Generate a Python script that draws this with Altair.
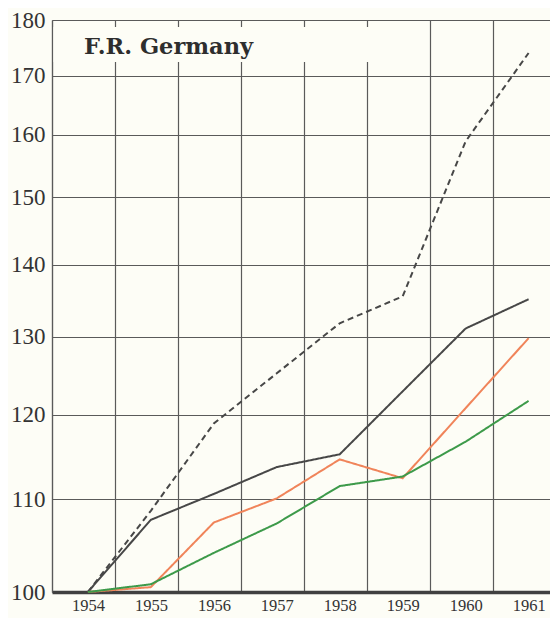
import altair as alt
import pandas as pd

years = [1954, 1955, 1956, 1957, 1958, 1959, 1960, 1961]
dashed_black = [100, 108.7, 118.9, 125.2, 131.8, 135.5, 158.9, 174.0]
solid_black = [100, 107.7, 110.6, 113.7, 115.2, 122.9, 131.1, 135.1]
orange = [100, 100.5, 107.4, 110.1, 114.6, 112.4, 120.8, 129.8]
green = [100, 100.8, 104.1, 107.3, 111.5, 112.6, 116.7, 121.7]

series_names = ["dashed", "black", "orange", "green"]
series_values = [dashed_black, solid_black, orange, green]
series_colors = ["#474747", "#474747", "#f0845a", "#3d9a4a"]
series_dash = [[6, 4], [1, 0], [1, 0], [1, 0]]

y_ticks = [100, 110, 120, 130, 140, 150, 160, 170, 180]
x_grid = [1953.43, 1954.43, 1955.43, 1956.43, 1957.43, 1958.43, 1959.43, 1960.43]
x_domain = [1953.43, 1961.34]
title_text = "F.R. Germany"

rows = []
for name, vals in zip(series_names, series_values):
    for yr, v in zip(years, vals):
        rows.append({"year": yr, "value": v, "series": name})
df = pd.DataFrame(rows)

BG = "#fdfdf6"
INK = "#333333"
GRID = "#5a5a5a"

x_enc = alt.X(
    "year:Q",
    scale=alt.Scale(domain=x_domain, nice=False, zero=False),
    axis=alt.Axis(
        values=x_grid,
        title=None,
        grid=True,
        gridColor=GRID,
        gridWidth=1.2,
        ticks=False,
        domain=True,
        domainColor="#404040",
        domainWidth=3.5,
        labelExpr="toString(round(datum.value + 0.57))",
        labelOffset=36,
        labelFlush=False,
        labelOverlap=False,
        labelBound=False,
        labelPadding=5,
        labelFont="Liberation Serif",
        labelFontSize=16.5,
        labelColor=INK,
    ),
)
y_enc = alt.Y(
    "value:Q",
    scale=alt.Scale(type="log", domain=[100, 180], nice=False, zero=False),
    axis=alt.Axis(
        values=y_ticks,
        title=None,
        grid=True,
        gridColor=GRID,
        gridWidth=1.2,
        ticks=False,
        domain=True,
        domainColor=GRID,
        domainWidth=1.2,
        labelPadding=7,
        labelFont="Liberation Serif",
        labelFontSize=23,
        labelColor=INK,
        labelFlush=False,
        labelOverlap=False,
        format="d",
    ),
)

lines = alt.Chart(df).mark_line(strokeWidth=2).encode(
    x=x_enc,
    y=y_enc,
    color=alt.Color("series:N", scale=alt.Scale(domain=series_names, range=series_colors), legend=None),
    strokeDash=alt.StrokeDash("series:N", scale=alt.Scale(domain=series_names, range=series_dash), legend=None),
)

box = alt.Chart(pd.DataFrame({"t": [title_text]})).mark_rect(color=BG).encode(
    x=alt.value(1.5), x2=alt.value(350), y=alt.value(7), y2=alt.value(42)
)
title = alt.Chart(pd.DataFrame({"t": [title_text]})).mark_text(
    font="DejaVu Serif", fontWeight="bold", fontSize=22.5, color="#2e2e2e",
    align="left", baseline="alphabetic",
).encode(x=alt.value(32), y=alt.value(34), text="t:N")

chart = alt.layer(lines, box, title).properties(
    width=498,
    height=572,
    background=BG,
    autosize=alt.AutoSizeParams(type="none"),
    padding={"left": 44, "top": 12, "right": 0, "bottom": 26},
).configure_view(stroke=None)

chart.save("out.html", embed_options={"renderer": "svg", "actions": False})
